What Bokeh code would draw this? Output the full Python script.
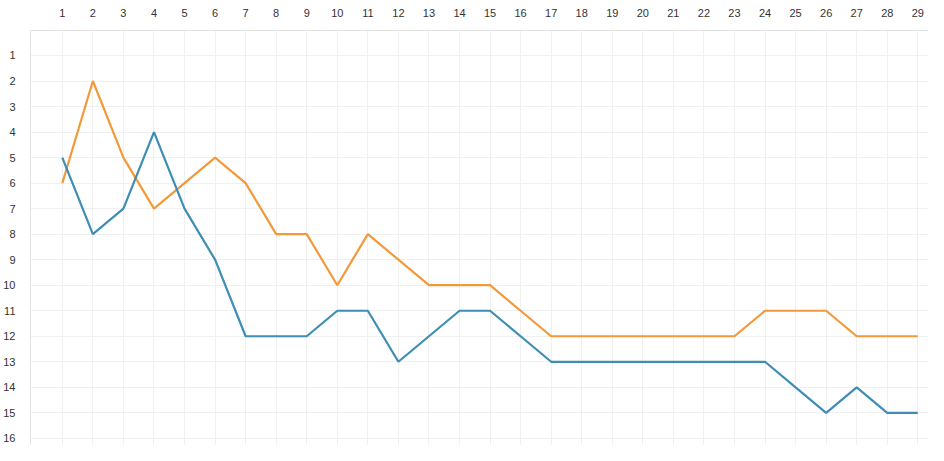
from bokeh.plotting import figure
from bokeh.models import Range1d, FixedTicker
from bokeh.embed import file_html
from bokeh.resources import INLINE

rounds = list(range(1, 30))
blue_rank = [5, 8, 7, 4, 7, 9, 12, 12, 12, 11, 11, 13, 12, 11, 11, 12, 13, 13, 13, 13,
             13, 13, 13, 13, 14, 15, 14, 15, 15]
orange_rank = [6, 2, 5, 7, 6, 5, 6, 8, 8, 10, 8, 9, 10, 10, 10, 11, 12, 12, 12, 12,
               12, 12, 12, 11, 11, 11, 12, 12, 12]
x_ticks = list(range(1, 31))
y_ticks = list(range(1, 17))

p = figure(width=928, height=445, output_backend="svg", toolbar_location=None,
           x_range=Range1d(-0.041, 29.35), y_range=Range1d(16.28, 0.021),
           x_axis_location="above",
           min_border_left=22, min_border_top=30, min_border_right=0, min_border_bottom=0)

p.background_fill_color = "white"
p.outline_line_color = None

for ax, ticks in ((p.xaxis, x_ticks), (p.yaxis, y_ticks)):
    ax.ticker = FixedTicker(ticks=ticks)
    ax.axis_line_color = "#e3e3e3"
    ax.axis_line_width = 1
    ax.major_tick_line_color = None
    ax.minor_tick_line_color = None
    ax.major_label_text_font = "Liberation Sans"
    ax.major_label_text_font_size = "11px"
    ax.major_label_text_color = "#333333"
p.xaxis.major_label_standoff = 8
p.yaxis.major_label_standoff = 9

p.xgrid.ticker = FixedTicker(ticks=x_ticks)
p.ygrid.ticker = FixedTicker(ticks=y_ticks)
p.grid.grid_line_color = "#f0f0f0"
p.grid.grid_line_width = 1

p.line(rounds, orange_rank, line_color="#f4993a", line_width=2.2)
p.line(rounds, blue_rank, line_color="#3d8db5", line_width=2.2)

open("out.html", "w").write(file_html(p, INLINE))
